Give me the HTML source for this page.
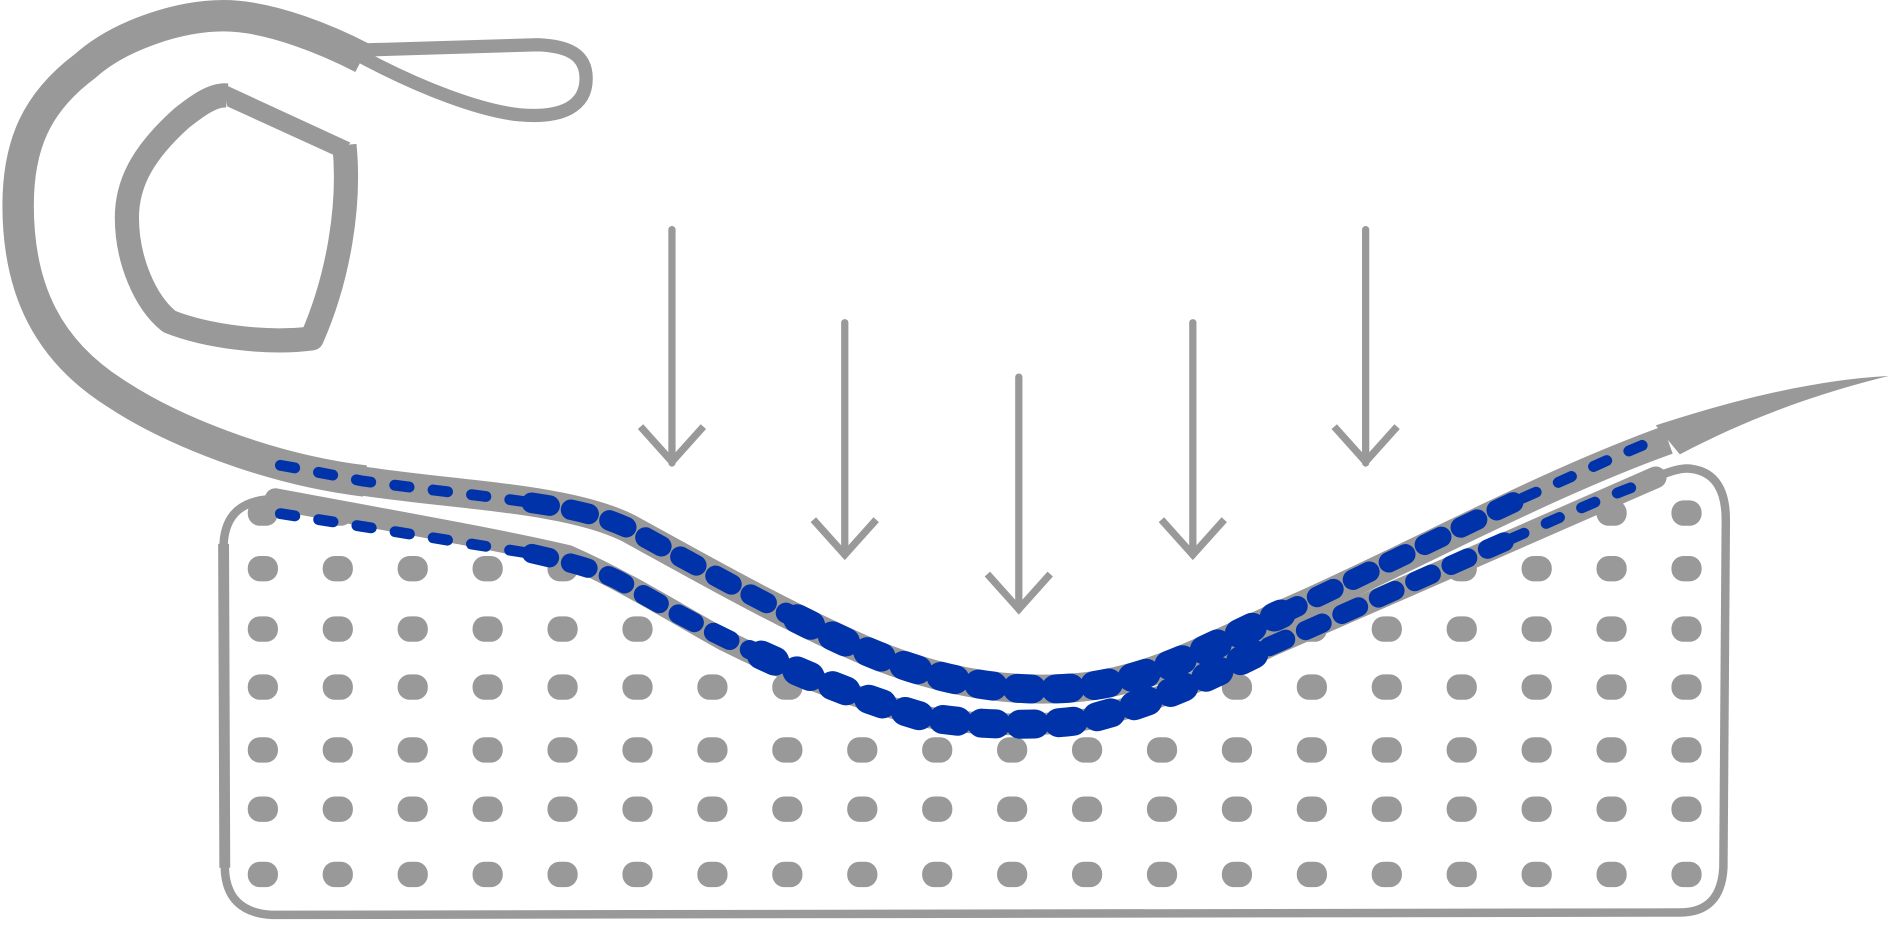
<!DOCTYPE html>
<html><head><meta charset="utf-8"><style>html,body{margin:0;padding:0;background:#fff}svg{display:block}</style></head>
<body>
<svg width="1895" height="927" viewBox="0 0 1568 767" preserveAspectRatio="none" xmlns="http://www.w3.org/2000/svg">
<g fill="#999">
<g id="row">
<rect x="205" y="414" width="25" height="21" rx="10"/><rect x="267" y="414" width="25" height="21" rx="10"/><rect x="329" y="414" width="25" height="21" rx="10"/><rect x="391" y="414" width="25" height="21" rx="10"/><rect x="453" y="414" width="25" height="21" rx="10"/><rect x="515" y="414" width="25" height="21" rx="10"/><rect x="577" y="414" width="25" height="21" rx="10"/><rect x="639" y="414" width="25" height="21" rx="10"/><rect x="701" y="414" width="25" height="21" rx="10"/><rect x="763" y="414" width="25" height="21" rx="10"/><rect x="825" y="414" width="25" height="21" rx="10"/><rect x="887" y="414" width="25" height="21" rx="10"/><rect x="949" y="414" width="25" height="21" rx="10"/><rect x="1011" y="414" width="25" height="21" rx="10"/><rect x="1073" y="414" width="25" height="21" rx="10"/><rect x="1135" y="414" width="25" height="21" rx="10"/><rect x="1197" y="414" width="25" height="21" rx="10"/><rect x="1259" y="414" width="25" height="21" rx="10"/><rect x="1321" y="414" width="25" height="21" rx="10"/><rect x="1383" y="414" width="25" height="21" rx="10"/>
</g>
<use href="#row" y="46"/><use href="#row" y="96"/><use href="#row" y="144"/><use href="#row" y="196"/><use href="#row" y="245"/><use href="#row" y="299"/>
</g>
<path d="M150,0 L150,411 L228,411 C330,430 420,446 470,458 C520,480 560,506 600,528 C650,553 700,573 760,590 C800,598 860,600 900,593 C960,578 1000,558 1050,533 L1370,393 L1370,0 Z" fill="#fff"/>
<path d="M1370,395 Q1390,386 1400,388 Q1428,392 1428,430 L1426,718 Q1424,755 1390,755 L225,757 Q187,755 186,718 L185,450 Q187,413 228,413" fill="none" stroke="#999" stroke-width="7"/>
<path d="M185,450 L186,718" fill="none" stroke="#999" stroke-width="9"/>
<path d="M228,413 C330,432 420,448 470,460 C520,482 560,508 600,530 C650,555 700,575 760,592 C800,600 860,602 900,595 C960,580 1000,560 1050,535 L1370,395" fill="none" stroke="#999" stroke-width="18" stroke-linecap="round"/>
<path d="M300,398 C380,410 470,412 520,437 C580,470 650,510 720,540 C780,565 840,575 900,568 C960,560 1000,535 1080,500 C1180,455 1280,400 1380,364" fill="none" stroke="#999" stroke-width="24"/>
<path d="M1370,352 C1450,326 1510,314 1563,311 C1510,324 1450,344 1390,376 Z" fill="#999"/>
<path d="M302,398 C220,388 140,355 95,325 C40,290 15,240 15,170 C15,120 30,85 70,55 C100,28 150,13 185,13 C225,13 275,35 300,48" fill="none" stroke="#999" stroke-width="26" stroke-linejoin="round"/>
<path d="M290,42 C350,75 400,92 430,95 C465,98 485,88 485,65 C485,45 470,38 445,37 L280,42" fill="none" stroke="#999" stroke-width="11" stroke-linejoin="round"/>
<path d="M285,120 C290,170 280,230 258,280 C220,285 170,278 140,266 C120,250 105,215 105,180 C105,150 120,125 150,98 C165,86 177,78 188,79" fill="none" stroke="#999" stroke-width="20" stroke-linejoin="round"/>
<path d="M186,70 L290,118 L280,130 L188,88 Z" fill="#999"/>
<g fill="none" stroke="#999" stroke-width="6" stroke-linecap="round">
<line x1="556" y1="190" x2="556" y2="383"/><polyline points="530,353 556,382 582,353" stroke-linecap="butt"/>
<line x1="699" y1="267" x2="699" y2="459"/><polyline points="673,430 699,459 725,430" stroke-linecap="butt"/>
<line x1="843" y1="312" x2="843" y2="504"/><polyline points="817,475 843,504 869,475" stroke-linecap="butt"/>
<line x1="987" y1="267" x2="987" y2="459"/><polyline points="961,430 987,459 1013,430" stroke-linecap="butt"/>
<line x1="1130" y1="190" x2="1130" y2="383"/><polyline points="1104,353 1130,382 1156,353" stroke-linecap="butt"/>
</g>
<g fill="none" stroke="#0033AA" stroke-linecap="round">
<path d="M232,385 C260,390 280,394 300,398 C360,406 400,410 440,416" stroke-width="9" stroke-dasharray="12 20"/>
<path d="M440,416 C480,422 500,428 520,437 C580,470 620,492 660,512" stroke-width="17" stroke-dasharray="15 18"/>
<path d="M660,512 C680,522 700,532 720,540 C780,565 840,575 900,568 C960,560 1000,535 1060,508" stroke-width="24" stroke-dasharray="12 20"/>
<path d="M1060,508 C1120,480 1200,440 1260,412" stroke-width="17" stroke-dasharray="15 18"/>
<path d="M1260,412 C1300,395 1330,380 1365,366" stroke-width="9" stroke-dasharray="12 20"/>
<path d="M232,425 C330,440 400,452 440,458" stroke-width="9" stroke-dasharray="12 20"/>
<path d="M440,458 C470,465 500,472 520,485 C560,508 590,524 630,542" stroke-width="16" stroke-dasharray="15 18"/>
<path d="M630,542 C680,565 720,580 760,592 C800,600 860,602 900,595 C960,580 1000,560 1050,535" stroke-width="24" stroke-dasharray="12 20"/>
<path d="M1050,535 C1130,500 1190,472 1250,446" stroke-width="16" stroke-dasharray="15 18"/>
<path d="M1250,446 C1300,424 1330,410 1365,398" stroke-width="9" stroke-dasharray="12 20"/>
</g>
</svg>
</body></html>
